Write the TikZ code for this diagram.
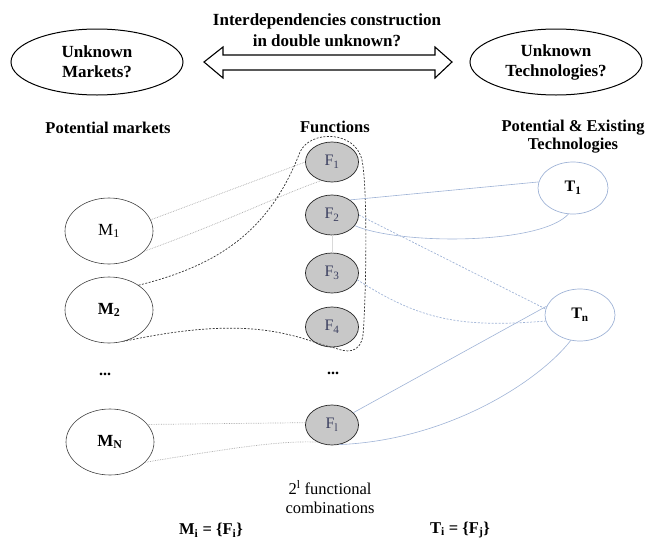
\documentclass[tikz,border=0pt]{standalone}
\usepackage{fontspec}
\setmainfont{Liberation Serif}
\usetikzlibrary{shapes.geometric}
\definecolor{fgrey}{HTML}{C8C8C8}
\definecolor{tblue}{HTML}{9FB3D6}
\definecolor{flab}{HTML}{3C4060}
\definecolor{dotg}{HTML}{A8A8A8}
\begin{document}
\begin{tikzpicture}[x=1pt,y=-1pt,
  bigell/.style={ellipse,draw,line width=1pt,minimum width=172pt,minimum height=66pt,inner sep=0pt,align=center,font=\fontsize{17}{20}\selectfont\bfseries},
  mell/.style={ellipse,draw=black!75,line width=0.6pt,minimum width=88pt,minimum height=66pt,inner sep=0pt,font=\fontsize{17}{20}\selectfont},
  fell/.style={ellipse,draw=black!85,fill=fgrey,line width=0.7pt,minimum width=53pt,minimum height=40pt,inner sep=0pt,font=\fontsize{16}{18}\selectfont,text=flab},
  tell/.style={ellipse,draw=tblue,line width=0.7pt,minimum width=70pt,minimum height=52pt,inner sep=0pt,font=\fontsize{16}{18}\selectfont\bfseries},
  hdr/.style={align=center,font=\fontsize{16.5}{18}\selectfont\bfseries},
  mdot/.style={draw=dotg,densely dotted,line width=0.7pt},
  fdash/.style={draw=black!80,dash pattern=on 2pt off 1.5pt,line width=0.7pt},
  bline/.style={draw=tblue,line width=0.6pt},
  bdash/.style={draw=tblue,dash pattern=on 2pt off 1.5pt,line width=0.7pt}]
\useasboundingbox (0,0) rectangle (649,544);
% top
\node[bigell] (um) at (97,62) {Unknown\\Markets?};
\node[bigell] (ut) at (556,62) {Unknown\\Technologies?};
\node[align=center,font=\fontsize{17}{21}\selectfont\bfseries] (title) at (327,30) {Interdependencies construction\\in double unknown?};
\coordinate (al) at (204,62);
\coordinate (ar) at (452,62);
\draw[line width=1.1pt,line join=miter] (al) -- (223,47) -- (223,55) -- (435,55) -- (435,47) -- (ar) -- (435,78) -- (435,70) -- (223,70) -- (223,78) -- cycle;
% headers
\node[hdr] (hm) at (108,128) {Potential markets};
\node[hdr] (hf) at (335,127) {Functions};
\node[hdr] (ht) at (573,137) {Potential \& Existing\\Technologies};
% markets
\node[mell] (m1) at (109,231) {M\textsubscript{1}};
\node[mell,font=\fontsize{17}{20}\selectfont\bfseries] (m2) at (109,310) {M\textsubscript{2}};
\node[font=\fontsize{16}{18}\selectfont\bfseries] (md) at (105,374) {...};
\node[mell,font=\fontsize{17}{20}\selectfont\bfseries] (mn) at (110,442) {M\textsubscript{N}};
% functions
\node[fell] (f1) at (332,162) {F\textsubscript{1}};
\node[fell] (f2) at (332,215) {F\textsubscript{2}};
\node[fell] (f3) at (332,273) {F\textsubscript{3}};
\node[fell] (f4) at (332,327) {F\textsubscript{4}};
\node[font=\fontsize{16}{18}\selectfont\bfseries] (fd) at (333,373) {...};
\node[fell] (fl) at (332,425) {F\textsubscript{l}};
% technologies
\node[tell] (t1) at (573,188) {T\textsubscript{1}};
\node[tell] (tn) at (580,315) {T\textsubscript{n}};
% bottom texts
\node[align=center,font=\fontsize{16.5}{19}\selectfont] (comb) at (330,497) {2\textsuperscript{l} functional\\combinations};
\node[font=\fontsize{16.5}{19}\selectfont\bfseries] (mi) at (211,530) {M\textsubscript{i} = \{F\textsubscript{i}\}};
\node[font=\fontsize{16.5}{19}\selectfont\bfseries] (ti) at (460,530) {T\textsubscript{i} = \{F\textsubscript{j}\}};
% market links
\draw[mdot] (m1.15) -- (f1.west);
\draw[mdot] (m1.-30) .. controls (230,220) and (280,195) .. (f1.-120);
\draw[mdot] (mn.25) -- (fl.175);
\draw[mdot] (mn.-30) .. controls (220,450) and (280,440) .. (fl.-130);
% faint vertical link
\draw[draw=black!15,line width=0.5pt] (f2.south) -- (f3.north);
% dashed function group
\draw[fdash] (m2.40) .. controls (220,265) and (270,230) .. (300,152)
  .. controls (310,130) and (355,130) .. (362,160)
  .. controls (368,190) and (366,300) .. (363,335)
  .. controls (360,355) and (345,352) .. (335,348)
  .. controls (320,345) and (305,338) .. (290,335)
  .. controls (250,325) and (200,325) .. (m2.-65);
% technology links
\draw[bline] (f2.40) -- (t1.170);
\draw[bline] (f2.-25) .. controls (400,245) and (540,245) .. (t1.-100);
\draw[bdash] (f2.east) -- (tn.170);
\draw[bdash] (f3.-15) .. controls (420,320) and (460,328) .. (tn.-170);
\draw[bline] (fl.30) -- (tn.165);
\draw[bline] (fl.-70) .. controls (450,440) and (540,380) .. (tn.-110);
\end{tikzpicture}
\end{document}
